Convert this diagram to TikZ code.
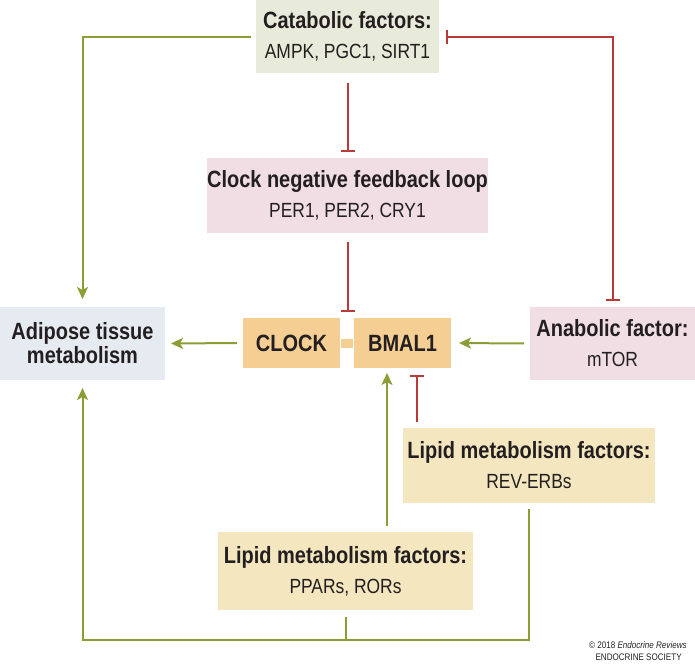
\documentclass[tikz,border=0pt]{standalone}
\usepackage{fontspec}
\setmainfont[FakeStretch=0.85]{Liberation Sans}
\usetikzlibrary{arrows.meta}

\definecolor{sage}{HTML}{E9EBDA}
\definecolor{rose}{HTML}{F0DEE4}
\definecolor{mist}{HTML}{E6EAF1}
\definecolor{tan}{HTML}{F4CE93}
\definecolor{sand}{HTML}{F4E6BE}
\definecolor{leaf}{HTML}{8D9C35}
\definecolor{brick}{HTML}{B83B37}
\definecolor{ink}{HTML}{231F20}

\newcommand{\hd}[1]{{\fontsize{23.5}{30}\selectfont\bfseries #1}}

\begin{document}
\begin{tikzpicture}[x=1pt, y=-1pt, line width=2pt,
    box/.style={inner sep=0pt, align=center, text=ink, font=\fontsize{20.5}{30}\selectfont},
    activ/.style={draw=leaf, -{Stealth[length=12pt, width=11pt, inset=3pt]}},
    inhib/.style={draw=brick, -{Bar[width=14pt]}}]

    \useasboundingbox (0,0) rectangle (695,665);

	% boxes
	\node[box, fill=sage, minimum width=183pt, minimum height=73pt] (cata) at (347.5, 36.5) {\hd{Catabolic factors:}\\AMPK, PGC1, SIRT1};
	\node[box, fill=rose, minimum width=265pt, minimum height=75pt] (loop) at (347.5, 195.5) {\hd{Clock negative feedback loop}\\PER1, PER2, CRY1};
	\node[box, fill=mist, minimum width=165pt, minimum height=73pt, font=\fontsize{23.5}{24}\selectfont\bfseries] (adip) at (82.5, 343.5) {Adipose tissue\\metabolism};
	\node[box, fill=tan, minimum width=97pt, minimum height=50pt] (clock) at (291.5, 343) {\hd{CLOCK}};
	\node[box, fill=tan, minimum width=97pt, minimum height=50pt] (bmal) at (402.5, 343) {\hd{BMAL1}};
	\fill[tan] ([yshift=-4.5pt]clock.east) rectangle ([yshift=4.5pt]bmal.west);
	\node[box, fill=rose, minimum width=165pt, minimum height=73pt] (anab) at (612.5, 343.5) {\hd{Anabolic factor:}\\mTOR};
	\node[box, fill=sand, minimum width=252pt, minimum height=75pt] (rev) at (529, 465.5) {\hd{Lipid metabolism factors:}\\REV-ERBs};
	\node[box, fill=sand, minimum width=255pt, minimum height=78pt] (ppar) at (345.5, 571) {\hd{Lipid metabolism factors:}\\PPARs, RORs};

	\coordinate (revtop) at ([xshift=15pt]rev.north west);
	\coordinate (ppartop) at ([xshift=41.5pt]ppar.north);
	\coordinate (base) at (82.5, 640);

	% connectors
	\draw[activ, shorten <=4pt, shorten >=7pt] (cata.west) -| (adip.north);
	\draw[inhib, shorten <=9pt, shorten >=5pt] (cata.south) -- (loop.north);
	\draw[inhib, shorten <=8pt, shorten >=5pt] (loop.south) -- (loop.south |- clock.north);
	\draw[inhib, {Bar[width=14pt]}-{Bar[width=14pt]}, shorten <=5pt, shorten >=6pt] (anab.north) |- (cata.east);
	\draw[activ, shorten <=5pt, shorten >=5pt] (clock.west) -- (adip.east);
	\draw[activ, shorten <=5pt, shorten >=7pt] (anab.west) -- (bmal.east);
	\draw[inhib, shorten <=5pt, shorten >=6pt] (revtop) -- (revtop |- bmal.south);
	\draw[activ, shorten <=5pt, shorten >=4pt] (ppartop) -- (ppartop |- bmal.south);
	\draw[activ, shorten <=5pt, shorten >=7pt] (rev.south) |- (base) -- (adip.south);
	\draw[draw=leaf, shorten <=6pt] (ppar.south) -- (ppar.south |- base);

	% credit
	\node[anchor=east, text=ink, font=\fontsize{9.5}{11}\selectfont] (cpr) at (691, 645) {\copyright{} 2018 \textit{Endocrine Reviews}};
	\node[anchor=east, text=ink, font=\fontsize{9.5}{11}\selectfont] (soc) at (686, 657) {ENDOCRINE SOCIETY};

\end{tikzpicture}
\end{document}
